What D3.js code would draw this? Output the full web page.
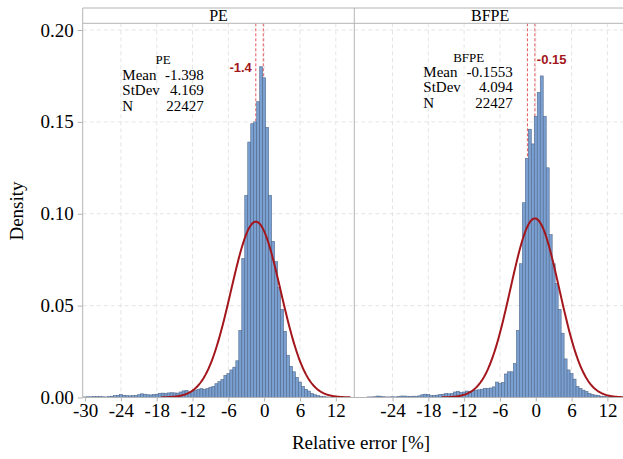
<!DOCTYPE html>
<html>
<head>
<meta charset="utf-8">
<script src="https://cdn.jsdelivr.net/npm/d3@7"></script>
<style>
  body { margin: 0; background: #fff; }
  svg { display: block; }
</style>
</head>
<body>
<svg id="chart" width="623" height="459"></svg>
<script>
// histogram bins: width 0.5, midpoints -30 ... 14.5
const binMids = d3.range(-30, 15, 0.5);

const peDensity = [
  0.0003, 0.0004, 0.0004, 0.0005, 0.0005, 0.0005, 0.0004, 0.0003, 0.0005, 0.0007,
  0.0010, 0.0012, 0.0016, 0.0012, 0.0010, 0.0009, 0.0010, 0.0011, 0.0015, 0.0020,
  0.0018, 0.0015, 0.0014, 0.0016, 0.0018, 0.0022, 0.0024, 0.0023, 0.0025, 0.0026,
  0.0025, 0.0024, 0.0030, 0.0036, 0.0038, 0.0030, 0.0032, 0.0040, 0.0045, 0.0048,
  0.0044, 0.0048, 0.0056, 0.0060, 0.0075, 0.0086, 0.0098, 0.0120, 0.0130, 0.0150,
  0.0165, 0.0200, 0.0365, 0.0756, 0.110, 0.139, 0.149, 0.150, 0.161, 0.180,
  0.174, 0.147, 0.110, 0.085, 0.074, 0.060, 0.048, 0.036, 0.023, 0.017,
  0.014, 0.011, 0.0084, 0.0060, 0.0045, 0.0035, 0.0022, 0.0015, 0.0010, 0.0007,
  0.0005, 0.0003, 0.0002, 0.0001, 0, 0, 0, 0, 0, 0
];

const bfpeDensity = [
  0.0001, 0.0001, 0.0001, 0.0001, 0.0003, 0.0003, 0.0004, 0.0008, 0.0007, 0.0004,
  0.0003, 0.0003, 0.0004, 0.0003, 0.0005, 0.0008, 0.0008, 0.0007, 0.0006, 0.0007,
  0.0007, 0.0009, 0.0015, 0.0018, 0.0016, 0.0010, 0.0011, 0.0013, 0.0016, 0.0018,
  0.0022, 0.0020, 0.0022, 0.0030, 0.0034, 0.0028, 0.0030, 0.0035, 0.0032, 0.0036,
  0.0040, 0.0042, 0.0045, 0.0050, 0.0050, 0.0052, 0.0058, 0.0084, 0.0076, 0.0082,
  0.0128, 0.0140, 0.0140, 0.0184, 0.0365, 0.0728, 0.106, 0.130, 0.146, 0.138,
  0.153, 0.166, 0.175, 0.153, 0.125, 0.0886, 0.0728, 0.062, 0.048, 0.035,
  0.021, 0.015, 0.013, 0.010, 0.006, 0.005, 0.004, 0.0033, 0.0022, 0.0016,
  0.0013, 0.0010, 0.0007, 0.0005, 0.0004, 0.0003, 0.0002, 0.0001, 0.0001, 0
];

const yTicks = [0, 0.05, 0.10, 0.15, 0.20];
const yTickLabels = ["0.00", "0.05", "0.10", "0.15", "0.20"];
const xTicksPE = [-30, -24, -18, -12, -6, 0, 6, 12];
const xTicksBFPE = [-24, -18, -12, -6, 0, 6, 12];
const gridX = [-24, -18, -12, -6, 0, 6, 12];
const meanMarks = [-1.4, -0.15];

const panels = [
  { name: "PE", density: peDensity, mean: -1.398, sd: 4.169, n: 22427,
    stats: ["-1.398", "4.169", "22427"], mark: "-1.4", ticks: xTicksPE },
  { name: "BFPE", density: bfpeDensity, mean: -0.1553, sd: 4.094, n: 22427,
    stats: ["-0.1553", "4.094", "22427"], mark: "-0.15", ticks: xTicksBFPE }
];

// layout
const plotTop = 23.3, plotBottom = 397.5, stripTop = 8;
const panelW = 271.6;
const panelX = [82.7, 354.3];
const boxPos = [
  { title: 163, label: 122.3, value: 203.7, y: [64, 80, 95, 110.5] },
  { title: 468.7, label: 423.3, value: 512.7, y: [61.5, 76.5, 91.5, 107.5] }
];

const serif = "'Liberation Serif', 'Times New Roman', serif";
const sans = "'Liberation Sans', Arial, sans-serif";
const frameColor = "#b4b4b4";

const svg = d3.select("#chart");
svg.append("rect").attr("width", 623).attr("height", 459).attr("fill", "#fff");

const y = d3.scaleLinear().domain([0, 0.2]).range([plotBottom, 30]);

svg.append("defs").selectAll("clipPath")
  .data(panels)
  .join("clipPath")
  .attr("id", (d, i) => "clip" + i)
  .append("rect")
  .attr("x", (d, i) => panelX[i])
  .attr("y", plotTop)
  .attr("width", panelW)
  .attr("height", plotBottom - plotTop);

panels.forEach((p, i) => {
  const x0 = panelX[i];
  const x = d3.scaleLinear().domain([-30.4, 15.1]).range([x0, x0 + panelW]);
  const g = svg.append("g");
  const inner = g.append("g").attr("clip-path", `url(#clip${i})`);

  // grid
  inner.selectAll(".gx").data(gridX).join("line")
    .attr("x1", d => x(d)).attr("x2", d => x(d))
    .attr("y1", plotTop).attr("y2", plotBottom)
    .attr("stroke", "#dedede").attr("stroke-width", 0.8)
    .attr("stroke-dasharray", "4,3");
  inner.selectAll(".gy").data(yTicks.slice(1)).join("line")
    .attr("x1", x0).attr("x2", x0 + panelW)
    .attr("y1", d => y(d)).attr("y2", d => y(d))
    .attr("stroke", "#dedede").attr("stroke-width", 0.8)
    .attr("stroke-dasharray", "4,3");

  // mean reference lines
  inner.selectAll(".mean").data(meanMarks).join("line")
    .attr("x1", d => x(d)).attr("x2", d => x(d))
    .attr("y1", plotTop).attr("y2", plotBottom)
    .attr("stroke", "#e0454b").attr("stroke-width", 0.9)
    .attr("stroke-dasharray", "3,2");

  // histogram
  const bins = binMids.map((m, k) => ({ mid: m, d: p.density[k] })).filter(b => b.d > 0);
  inner.selectAll(".bar").data(bins).join("rect")
    .attr("x", b => x(b.mid - 0.25))
    .attr("width", b => x(b.mid + 0.25) - x(b.mid - 0.25))
    .attr("y", b => y(b.d))
    .attr("height", b => y(0) - y(b.d))
    .attr("fill", "#7aa0d2")
    .attr("stroke", "#52698c")
    .attr("stroke-width", 0.6);

  // fitted normal curve
  const lo = p.mean - 3.8 * p.sd, hi = Math.min(p.mean + 3.8 * p.sd, 15.1);
  const pts = d3.range(lo, hi, (hi - lo) / 200).concat([hi]);
  const pdf = v => Math.exp(-0.5 * ((v - p.mean) / p.sd) ** 2) / (p.sd * Math.sqrt(2 * Math.PI));
  inner.append("path")
    .datum(pts)
    .attr("d", d3.line().x(v => x(v)).y(v => y(pdf(v))))
    .attr("fill", "none")
    .attr("stroke", "#a3161c")
    .attr("stroke-width", 2);

  // mean label
  const markX = +p.mark;
  g.append("text")
    .attr("x", i === 0 ? x(markX) - 4 : x(markX) + 2)
    .attr("y", i === 0 ? 72 : 64)
    .attr("text-anchor", i === 0 ? "end" : "start")
    .attr("font-family", sans).attr("font-size", 13).attr("font-weight", "bold")
    .attr("fill", "#a3161c")
    .text(p.mark);

  // stats box
  const b = boxPos[i];
  g.append("text").attr("x", b.title).attr("y", b.y[0])
    .attr("text-anchor", "middle").attr("font-family", serif).attr("font-size", 13)
    .text(p.name);
  ["Mean", "StDev", "N"].forEach((lab, k) => {
    g.append("text").attr("x", b.label).attr("y", b.y[k + 1])
      .attr("font-family", serif).attr("font-size", 15).text(lab);
    g.append("text").attr("x", b.value).attr("y", b.y[k + 1])
      .attr("text-anchor", "end").attr("font-family", serif).attr("font-size", 15)
      .text(p.stats[k]);
  });

  // strip header
  g.append("text").attr("x", x0 + panelW / 2).attr("y", 20.5)
    .attr("text-anchor", "middle").attr("font-family", serif).attr("font-size", 16)
    .text(p.name);

  // x axis
  const xAxis = d3.axisBottom(x).tickValues(p.ticks).tickSize(4).tickPadding(2)
    .tickFormat(d => d);
  const ax = g.append("g").attr("transform", `translate(0,${plotBottom})`).call(xAxis);
  ax.select(".domain").remove();
  ax.selectAll("line").attr("stroke", frameColor);
  ax.selectAll("text").attr("font-family", serif).attr("font-size", 19).attr("fill", "#000")
    .text(d => d < 0 ? "-" + Math.abs(d) : d);
});

// frames
const frame = svg.append("g").attr("stroke", frameColor).attr("stroke-width", 1).attr("fill", "none");
frame.append("line").attr("x1", panelX[0]).attr("x2", 623).attr("y1", stripTop).attr("y2", stripTop);
frame.append("line").attr("x1", panelX[0]).attr("x2", 623).attr("y1", plotTop).attr("y2", plotTop);
frame.append("line").attr("x1", panelX[0]).attr("x2", 623).attr("y1", plotBottom).attr("y2", plotBottom);
[panelX[0], panelX[1], panelX[1] + panelW].forEach(v => {
  frame.append("line").attr("x1", v).attr("x2", v).attr("y1", stripTop).attr("y2", plotBottom);
});

// y axis
const yAxis = d3.axisLeft(y).tickValues(yTicks).tickSize(5).tickPadding(4)
  .tickFormat((d, k) => yTickLabels[k]);
const yg = svg.append("g").attr("transform", `translate(${panelX[0]},0)`).call(yAxis);
yg.select(".domain").remove();
yg.selectAll("line").attr("stroke", frameColor);
yg.selectAll("text").attr("font-family", serif).attr("font-size", 19).attr("fill", "#000");

// axis titles
svg.append("text").attr("x", 361).attr("y", 449)
  .attr("text-anchor", "middle").attr("font-family", serif).attr("font-size", 19)
  .text("Relative error [%]");
svg.append("text")
  .attr("transform", "translate(23,211) rotate(-90)")
  .attr("text-anchor", "middle").attr("font-family", serif).attr("font-size", 19)
  .text("Density");
</script>
</body>
</html>
